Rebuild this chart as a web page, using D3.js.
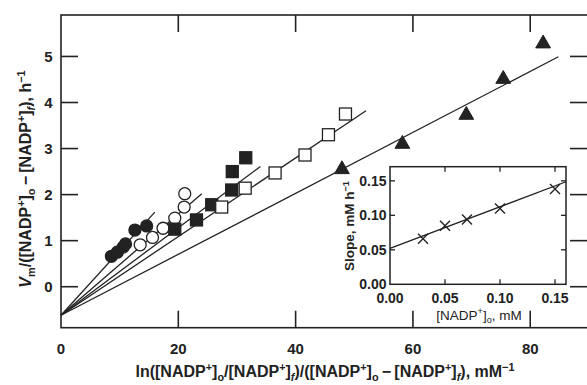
<!DOCTYPE html>
<html><head><meta charset="utf-8">
<script src="https://cdn.jsdelivr.net/npm/d3@7"></script>
<style>
html,body{margin:0;padding:0;background:#fff;}
svg text{font-family:"Liberation Sans",Arial,sans-serif;font-weight:bold;fill:#222;}
</style></head>
<body><svg id="c" width="587" height="385"></svg>
<script>
// ---- data (main plot) ----
const filledCircles = [[8.6,0.66],[9.6,0.75],[10.6,0.86],[11.0,0.93],[12.6,1.23],[14.6,1.32]];
const openCircles   = [[13.5,0.91],[15.6,1.07],[17.4,1.27],[19.4,1.49],[21.0,1.73],[21.1,2.02]];
const filledSquares = [[19.4,1.25],[23.1,1.45],[25.7,1.78],[29.1,2.10],[29.2,2.50],[31.5,2.80]];
const openSquares   = [[27.4,1.73],[31.4,2.14],[36.5,2.47],[41.6,2.86],[45.6,3.30],[48.5,3.75]];
const triangles     = [[47.9,2.57],[58.2,3.12],[69.1,3.75],[75.4,4.53],[82.2,5.30]];
// fitted lines: common intercept, slopes, x-extent
const lineIntercept = -0.62;
const lineSlopes = [0.140, 0.110, 0.095, 0.0854, 0.0662];
const lineEnds   = [16, 24, 34, 52, 84.8];
const xTicks = [0,20,40,60,80];
const yTicks = [0,1,2,3,4,5];
// ---- data (inset) ----
const insetX = [0.03,0.05,0.07,0.10,0.15];
const insetY = [0.066,0.085,0.094,0.110,0.138];
const insetLine = [[0,0.052],[0.16,0.1487]];
const insetXTicks = [0.00,0.05,0.10,0.15];
const insetYTicks = [0.00,0.05,0.10,0.15];

const svg = d3.select("#c");
const col = "#222";

// main scales
const L=61, R=588, T=15, B=327.7;
const x = d3.scaleLinear().domain([0,89.85]).range([L,R]);
const y = d3.scaleLinear().domain([-0.89,5.9]).range([B,T]);

const tl = 17;
svg.append("rect").attr("x",L).attr("y",T).attr("width",R-L).attr("height",B-T)
  .attr("fill","none").attr("stroke",col).attr("stroke-width",1.6);

const g = svg.append("g");
xTicks.filter(d=>d>0).forEach(d=>{
  g.append("line").attr("x1",x(d)).attr("x2",x(d)).attr("y1",B).attr("y2",B-tl).attr("stroke",col).attr("stroke-width",1.6);
  g.append("line").attr("x1",x(d)).attr("x2",x(d)).attr("y1",T).attr("y2",T+tl).attr("stroke",col).attr("stroke-width",1.6);
});
yTicks.forEach(d=>{
  g.append("line").attr("x1",L).attr("x2",L+tl).attr("y1",y(d)).attr("y2",y(d)).attr("stroke",col).attr("stroke-width",1.6);
  g.append("line").attr("x1",R-1).attr("x2",R-1-tl).attr("y1",y(d)).attr("y2",y(d)).attr("stroke",col).attr("stroke-width",1.6);
});
xTicks.forEach(d=>{
  g.append("text").attr("x",x(d)).attr("y",353.5).attr("text-anchor","middle").attr("font-size",15).text(d);
});
yTicks.forEach(d=>{
  g.append("text").attr("x",52.5).attr("y",y(d)+5.3).attr("text-anchor","end").attr("font-size",15).text(d);
});

function parts(fs, list){
  const out=[]; let shift=0;
  list.forEach(([t,type,it])=>{
    let dy=0;
    if(type==="sup") dy=-fs*0.4; else if(type==="sub") dy=fs*0.25;
    out.push({t, type, it, dy: dy-shift}); shift=dy;
  });
  return out;
}
function richText(sel, fs, list){
  parts(fs,list).forEach(p=>{
    const s = sel.append("tspan").text(p.t).attr("dy",p.dy);
    if(p.type) s.attr("font-size",fs*0.68);
    if(p.it) s.attr("font-style","italic");
  });
}

// x title
const xt = svg.append("text").attr("x",325).attr("y",377).attr("text-anchor","middle").attr("font-size",16);
richText(xt,16,[["ln([NADP"],["+","sup"],["]"],["o","sub"],["/[NADP"],["+","sup"],["]"],["f","sub",true],[")/([NADP"],["+","sup"],["]"],["o","sub"],["\u2009\u2212\u2009[NADP"],["+","sup"],["]"],["f","sub",true],["), mM"],["\u22121","sup"]]);

// y title
const yt = svg.append("text").attr("transform","translate(31,179) rotate(-90)").attr("text-anchor","middle").attr("font-size",16);
richText(yt,16,[["V",null,true],["m","sub"],["/([NADP"],["+","sup"],["]"],["o","sub"],["\u2009\u2212\u2009[NADP"],["+","sup"],["]"],["f","sub",true],["), h"],["\u22121","sup"]]);

// fitted lines
lineSlopes.forEach((s,i)=>{
  svg.append("line").attr("x1",x(0)).attr("y1",y(lineIntercept))
    .attr("x2",x(lineEnds[i])).attr("y2",y(lineIntercept+s*lineEnds[i]))
    .attr("stroke",col).attr("stroke-width",1.3);
});

// markers
const mk = svg.append("g");
function circles(data, fill){
  mk.selectAll(null).data(data).enter().append("circle")
    .attr("cx",d=>x(d[0])).attr("cy",d=>y(d[1])).attr("r",6)
    .attr("fill",fill).attr("stroke",col).attr("stroke-width",1.3);
}
function squares(data, fill){
  mk.selectAll(null).data(data).enter().append("rect")
    .attr("x",d=>x(d[0])-6).attr("y",d=>y(d[1])-6).attr("width",12).attr("height",12)
    .attr("fill",fill).attr("stroke",col).attr("stroke-width",1.3);
}
circles(filledCircles,col);
circles(openCircles,"#fff");
squares(filledSquares,col);
squares(openSquares,"#fff");
mk.selectAll(null).data(triangles).enter().append("path")
  .attr("d",d3.symbol().type(d3.symbolTriangle).size(95))
  .attr("transform",d=>`translate(${x(d[0])},${y(d[1])+1})`)
  .attr("fill",col).attr("stroke",col).attr("stroke-width",1);

// ---- inset ----
const iL=390, iR=566, iT=166.7, iB=284.3;
const ix = d3.scaleLinear().domain([0,0.16]).range([iL,iR]);
const iy = d3.scaleLinear().domain([0,0.1705]).range([iB,iT]);
svg.append("rect").attr("x",iL).attr("y",iT).attr("width",iR-iL).attr("height",iB-iT)
  .attr("fill","#fff").attr("stroke",col).attr("stroke-width",1.5);
const itl=5;
const ig = svg.append("g");
insetXTicks.filter(d=>d>0).forEach(d=>{
  ig.append("line").attr("x1",ix(d)).attr("x2",ix(d)).attr("y1",iB).attr("y2",iB-itl).attr("stroke",col).attr("stroke-width",1.3);
  ig.append("line").attr("x1",ix(d)).attr("x2",ix(d)).attr("y1",iT).attr("y2",iT+itl).attr("stroke",col).attr("stroke-width",1.3);
});
insetYTicks.filter(d=>d>0).forEach(d=>{
  ig.append("line").attr("x1",iL).attr("x2",iL+itl).attr("y1",iy(d)).attr("y2",iy(d)).attr("stroke",col).attr("stroke-width",1.3);
  ig.append("line").attr("x1",iR).attr("x2",iR-itl).attr("y1",iy(d)).attr("y2",iy(d)).attr("stroke",col).attr("stroke-width",1.3);
});
insetXTicks.forEach(d=>{
  ig.append("text").attr("x",ix(d)).attr("y",303).attr("text-anchor","middle").attr("font-size",14).text(d.toFixed(2));
});
insetYTicks.forEach(d=>{
  ig.append("text").attr("x",386.5).attr("y",iy(d)+5).attr("text-anchor","end").attr("font-size",14).text(d.toFixed(2));
});
const ixt = svg.append("text").attr("x",479).attr("y",319.5).attr("text-anchor","middle").attr("font-size",13.5).style("font-weight","normal");
richText(ixt,13.5,[["[NADP"],["+","sup"],["]"],["o","sub"],[", mM"]]);
const iyt = svg.append("text").attr("transform","translate(354,226) rotate(-90)").attr("text-anchor","middle").attr("font-size",13.5);
richText(iyt,13.5,[["Slope, mM h"],["\u22121","sup"]]);

svg.append("line").attr("x1",ix(insetLine[0][0])).attr("y1",iy(insetLine[0][1]))
  .attr("x2",ix(insetLine[1][0])).attr("y2",iy(insetLine[1][1])).attr("stroke",col).attr("stroke-width",1.3);
const cr=5;
insetX.forEach((v,i)=>{
  const cx=ix(v), cy=iy(insetY[i]);
  svg.append("path").attr("d",`M${cx-cr},${cy-cr}L${cx+cr},${cy+cr}M${cx-cr},${cy+cr}L${cx+cr},${cy-cr}`)
    .attr("stroke",col).attr("stroke-width",1.4).attr("fill","none");
});
</script></body></html>
